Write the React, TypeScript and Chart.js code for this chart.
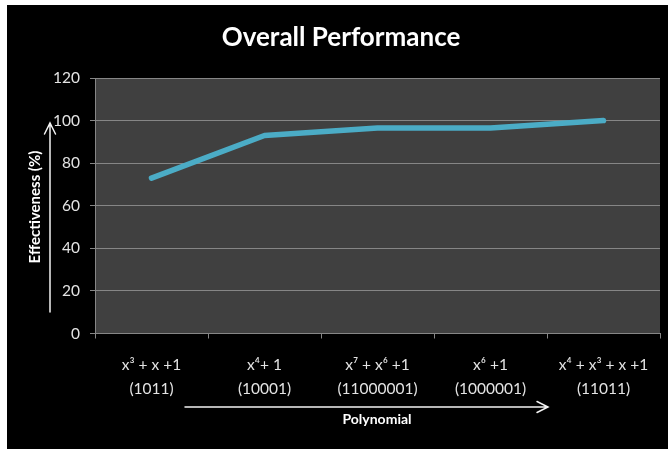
import React, { useEffect, useRef } from "react";
import { Chart, registerables } from "chart.js";

Chart.register(...registerables);

// Generator polynomials and their binary codes, shown as two-line category labels
const polynomials = ["x³ + x +1", "x⁴+ 1", "x⁷ + x⁶ +1", "x⁶ +1", "x⁴ + x³ + x +1"];
const codes = ["(1011)", "(10001)", "(11000001)", "(1000001)", "(11011)"];
// Effectiveness (%) per polynomial
const effectiveness = [73, 93, 96.5, 96.5, 100];
// Y axis range
const yMin = 0;
const yMax = 120;
const yStep = 20;

const FONT = "Lato, 'Open Sans', sans-serif";
const LABEL_COLOR = "#e3e3e3";
const GRID_COLOR = "#868686";

const decorations = {
  id: "decorations",
  beforeDraw(chart: any) {
    const { ctx, chartArea } = chart;
    ctx.save();
    // black slide-style background
    ctx.fillStyle = "#000000";
    ctx.fillRect(7, 5, chart.width, chart.height);
    // dark plot area
    ctx.fillStyle = "#404040";
    ctx.fillRect(chartArea.left, chartArea.top, chartArea.right - chartArea.left, chartArea.bottom - chartArea.top);
    ctx.restore();
  },
  afterDraw(chart: any) {
    const { ctx } = chart;
    ctx.save();
    // title
    ctx.fillStyle = "#ffffff";
    ctx.font = `bold 26px ${FONT}`;
    ctx.textAlign = "center";
    ctx.textBaseline = "middle";
    ctx.fillText("Overall Performance", 341, 38);

    // y axis title with upward arrow
    ctx.save();
    ctx.translate(35, 207);
    ctx.rotate(-Math.PI / 2);
    ctx.font = `bold 15px ${FONT}`;
    ctx.fillText("Effectiveness (%)", 0, 0);
    ctx.restore();

    ctx.strokeStyle = "#f2f2f2";
    ctx.lineWidth = 1.5;
    ctx.lineCap = "round";
    ctx.beginPath();
    ctx.moveTo(50, 312);
    ctx.lineTo(50, 123);
    ctx.moveTo(44.5, 134);
    ctx.lineTo(50, 123);
    ctx.lineTo(55.5, 134);
    ctx.stroke();

    // x axis title with rightward arrow
    ctx.beginPath();
    ctx.moveTo(185, 407);
    ctx.lineTo(548, 407);
    ctx.moveTo(537, 401.5);
    ctx.lineTo(548, 407);
    ctx.lineTo(537, 412.5);
    ctx.stroke();

    ctx.fillStyle = "#ffffff";
    ctx.font = `bold 14px ${FONT}`;
    ctx.fillText("Polynomial", 377, 419);
    ctx.restore();
  },
};

export default function App() {
  const canvasRef = useRef<HTMLCanvasElement | null>(null);

  useEffect(() => {
    const canvas = canvasRef.current;
    if (!canvas) return;
    const labels = polynomials.map((p, i) => [p, codes[i]]);
    const chart = new Chart(canvas, {
      type: "line",
      data: {
        labels,
        datasets: [
          {
            label: "Effectiveness",
            data: effectiveness,
            borderColor: "#4bacc6",
            borderWidth: 5.5,
            borderCapStyle: "round",
            borderJoinStyle: "round",
            pointRadius: 0,
            pointHoverRadius: 0,
            tension: 0,
            fill: false,
          },
        ],
      },
      options: {
        responsive: false,
        animation: false,
        events: [],
        layout: { padding: { left: 7, top: 78, right: 8, bottom: 0 } },
        plugins: {
          legend: { display: false },
          title: { display: false },
          tooltip: { enabled: false },
        },
        scales: {
          x: {
            offset: true,
            grid: {
              offset: true,
              drawOnChartArea: false,
              tickLength: 5,
              color: GRID_COLOR,
            },
            border: { color: GRID_COLOR },
            ticks: {
              color: LABEL_COLOR,
              font: { family: FONT, size: 15.5, lineHeight: 1.55 },
              padding: 14,
              autoSkip: false,
              maxRotation: 0,
              minRotation: 0,
            },
            afterFit(scale: any) {
              scale.height = 115.5;
            },
          },
          y: {
            min: yMin,
            max: yMax,
            grid: { color: GRID_COLOR, tickLength: 5 },
            border: { color: GRID_COLOR },
            ticks: {
              stepSize: yStep,
              color: LABEL_COLOR,
              font: { family: FONT, size: 15.5 },
              padding: 10,
            },
            afterFit(scale: any) {
              scale.width = 88;
            },
          },
        },
      },
      plugins: [decorations],
    });
    return () => chart.destroy();
  }, []);

  return (
    <div style={{ position: "absolute", left: 0, top: 0, width: 668, height: 449 }}>
      <canvas ref={canvasRef} width={668} height={449} style={{ display: "block" }} />
    </div>
  );
}
